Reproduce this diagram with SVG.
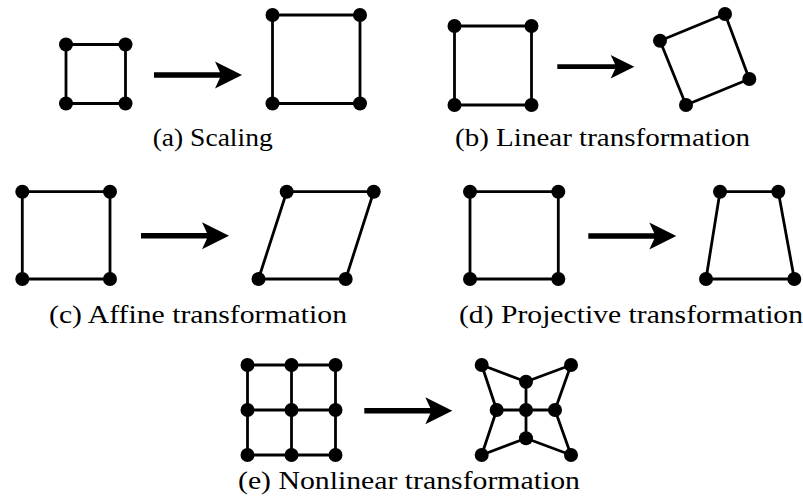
<svg xmlns="http://www.w3.org/2000/svg" xmlns:xlink="http://www.w3.org/1999/xlink" width="803" height="503" viewBox="0 0 803 503">
<style>
.e{fill:none;stroke:#000;stroke-width:2.8;stroke-linejoin:round}
.d{fill:#000}
.lbl{font-family:"Liberation Serif","Times New Roman",serif;font-size:26px;fill:#000;text-anchor:middle}
</style>
<defs>
<path id="arr" d="M0,-2.7 H66 L61,-13.5 L88,0 L61,13.5 L66,2.7 H0 Z" fill="#000"/>
</defs>
<rect width="803" height="503" fill="#fff"/>

<g id="panel-a">
<rect class="e" x="66" y="44.5" width="59.5" height="59"/>
<g class="d"><circle cx="66" cy="44.5" r="7"/><circle cx="125.5" cy="44.5" r="7"/><circle cx="66" cy="103.5" r="7"/><circle cx="125.5" cy="103.5" r="7"/></g>
<rect class="e" x="272.5" y="15" width="87.5" height="88.5"/>
<g class="d"><circle cx="272.5" cy="15" r="7"/><circle cx="360" cy="15" r="7"/><circle cx="272.5" cy="103.5" r="7"/><circle cx="360" cy="103.5" r="7"/></g>
<text class="lbl" x="212.7" y="146" textLength="120" lengthAdjust="spacingAndGlyphs">(a) Scaling</text>
</g>

<g id="panel-b">
<rect class="e" x="454.5" y="26" width="77" height="79"/>
<g class="d"><circle cx="454.5" cy="26" r="7"/><circle cx="531.5" cy="26" r="7"/><circle cx="454.5" cy="105" r="7"/><circle cx="531.5" cy="105" r="7"/></g>
<polygon class="e" points="660,40.7 725,14 749.3,79 686,105"/>
<g class="d"><circle cx="660" cy="40.7" r="7"/><circle cx="725" cy="14" r="7"/><circle cx="749.3" cy="79" r="7"/><circle cx="686" cy="105" r="7"/></g>
<text class="lbl" x="602.5" y="146" textLength="295" lengthAdjust="spacingAndGlyphs">(b) Linear transformation</text>
</g>

<g id="panel-c">
<rect class="e" x="22.3" y="191.7" width="87.7" height="87.3"/>
<g class="d"><circle cx="22.3" cy="191.7" r="7"/><circle cx="110" cy="191.7" r="7"/><circle cx="22.3" cy="279" r="7"/><circle cx="110" cy="279" r="7"/></g>
<polygon class="e" points="286.7,191.7 373.7,191.7 345.7,279 258.5,279"/>
<g class="d"><circle cx="286.7" cy="191.7" r="7"/><circle cx="373.7" cy="191.7" r="7"/><circle cx="345.7" cy="279" r="7"/><circle cx="258.5" cy="279" r="7"/></g>
<text class="lbl" x="198" y="323" textLength="298" lengthAdjust="spacingAndGlyphs">(c) Affine transformation</text>
</g>

<g id="panel-d">
<rect class="e" x="470" y="191.7" width="88.3" height="87.3"/>
<g class="d"><circle cx="470" cy="191.7" r="7"/><circle cx="558.3" cy="191.7" r="7"/><circle cx="470" cy="279" r="7"/><circle cx="558.3" cy="279" r="7"/></g>
<polygon class="e" points="720,191.7 778.3,191.7 794.3,279 706,279"/>
<g class="d"><circle cx="720" cy="191.7" r="7"/><circle cx="778.3" cy="191.7" r="7"/><circle cx="794.3" cy="279" r="7"/><circle cx="706" cy="279" r="7"/></g>
<text class="lbl" x="631" y="323" textLength="344" lengthAdjust="spacingAndGlyphs">(d) Projective transformation</text>
</g>

<g id="panel-e">
<g class="e">
<rect x="247.5" y="365" width="88" height="90"/>
<line x1="291.5" y1="365" x2="291.5" y2="455"/>
<line x1="247.5" y1="410" x2="335.5" y2="410"/>
</g>
<g class="d">
<circle cx="247.5" cy="365" r="7"/><circle cx="291.5" cy="365" r="7"/><circle cx="335.5" cy="365" r="7"/>
<circle cx="247.5" cy="410" r="7"/><circle cx="291.5" cy="410" r="7"/><circle cx="335.5" cy="410" r="7"/>
<circle cx="247.5" cy="455" r="7"/><circle cx="291.5" cy="455" r="7"/><circle cx="335.5" cy="455" r="7"/>
</g>
<g class="e">
<polygon points="481.7,365 526,381.7 571,365 555,410 571,455 526,438.3 481.7,455 496.7,410"/>
<line x1="526" y1="381.7" x2="526" y2="438.3"/>
<line x1="496.7" y1="410" x2="555" y2="410"/>
</g>
<g class="d">
<circle cx="481.7" cy="365" r="7"/><circle cx="526" cy="381.7" r="7"/><circle cx="571" cy="365" r="7"/>
<circle cx="496.7" cy="410" r="7"/><circle cx="526" cy="410" r="7"/><circle cx="555" cy="410" r="7"/>
<circle cx="481.7" cy="455" r="7"/><circle cx="526" cy="438.3" r="7"/><circle cx="571" cy="455" r="7"/>
</g>
<text class="lbl" x="409" y="489" textLength="342" lengthAdjust="spacingAndGlyphs">(e) Nonlinear transformation</text>
</g>

<g id="connectors">
<use xlink:href="#arr" transform="translate(154,75)"/>
<use xlink:href="#arr" transform="translate(557.3,66.7) scale(0.875)"/>
<use xlink:href="#arr" transform="translate(141,235.7)"/>
<use xlink:href="#arr" transform="translate(588.3,236)"/>
<use xlink:href="#arr" transform="translate(364.3,410.7)"/>
</g>
</svg>
